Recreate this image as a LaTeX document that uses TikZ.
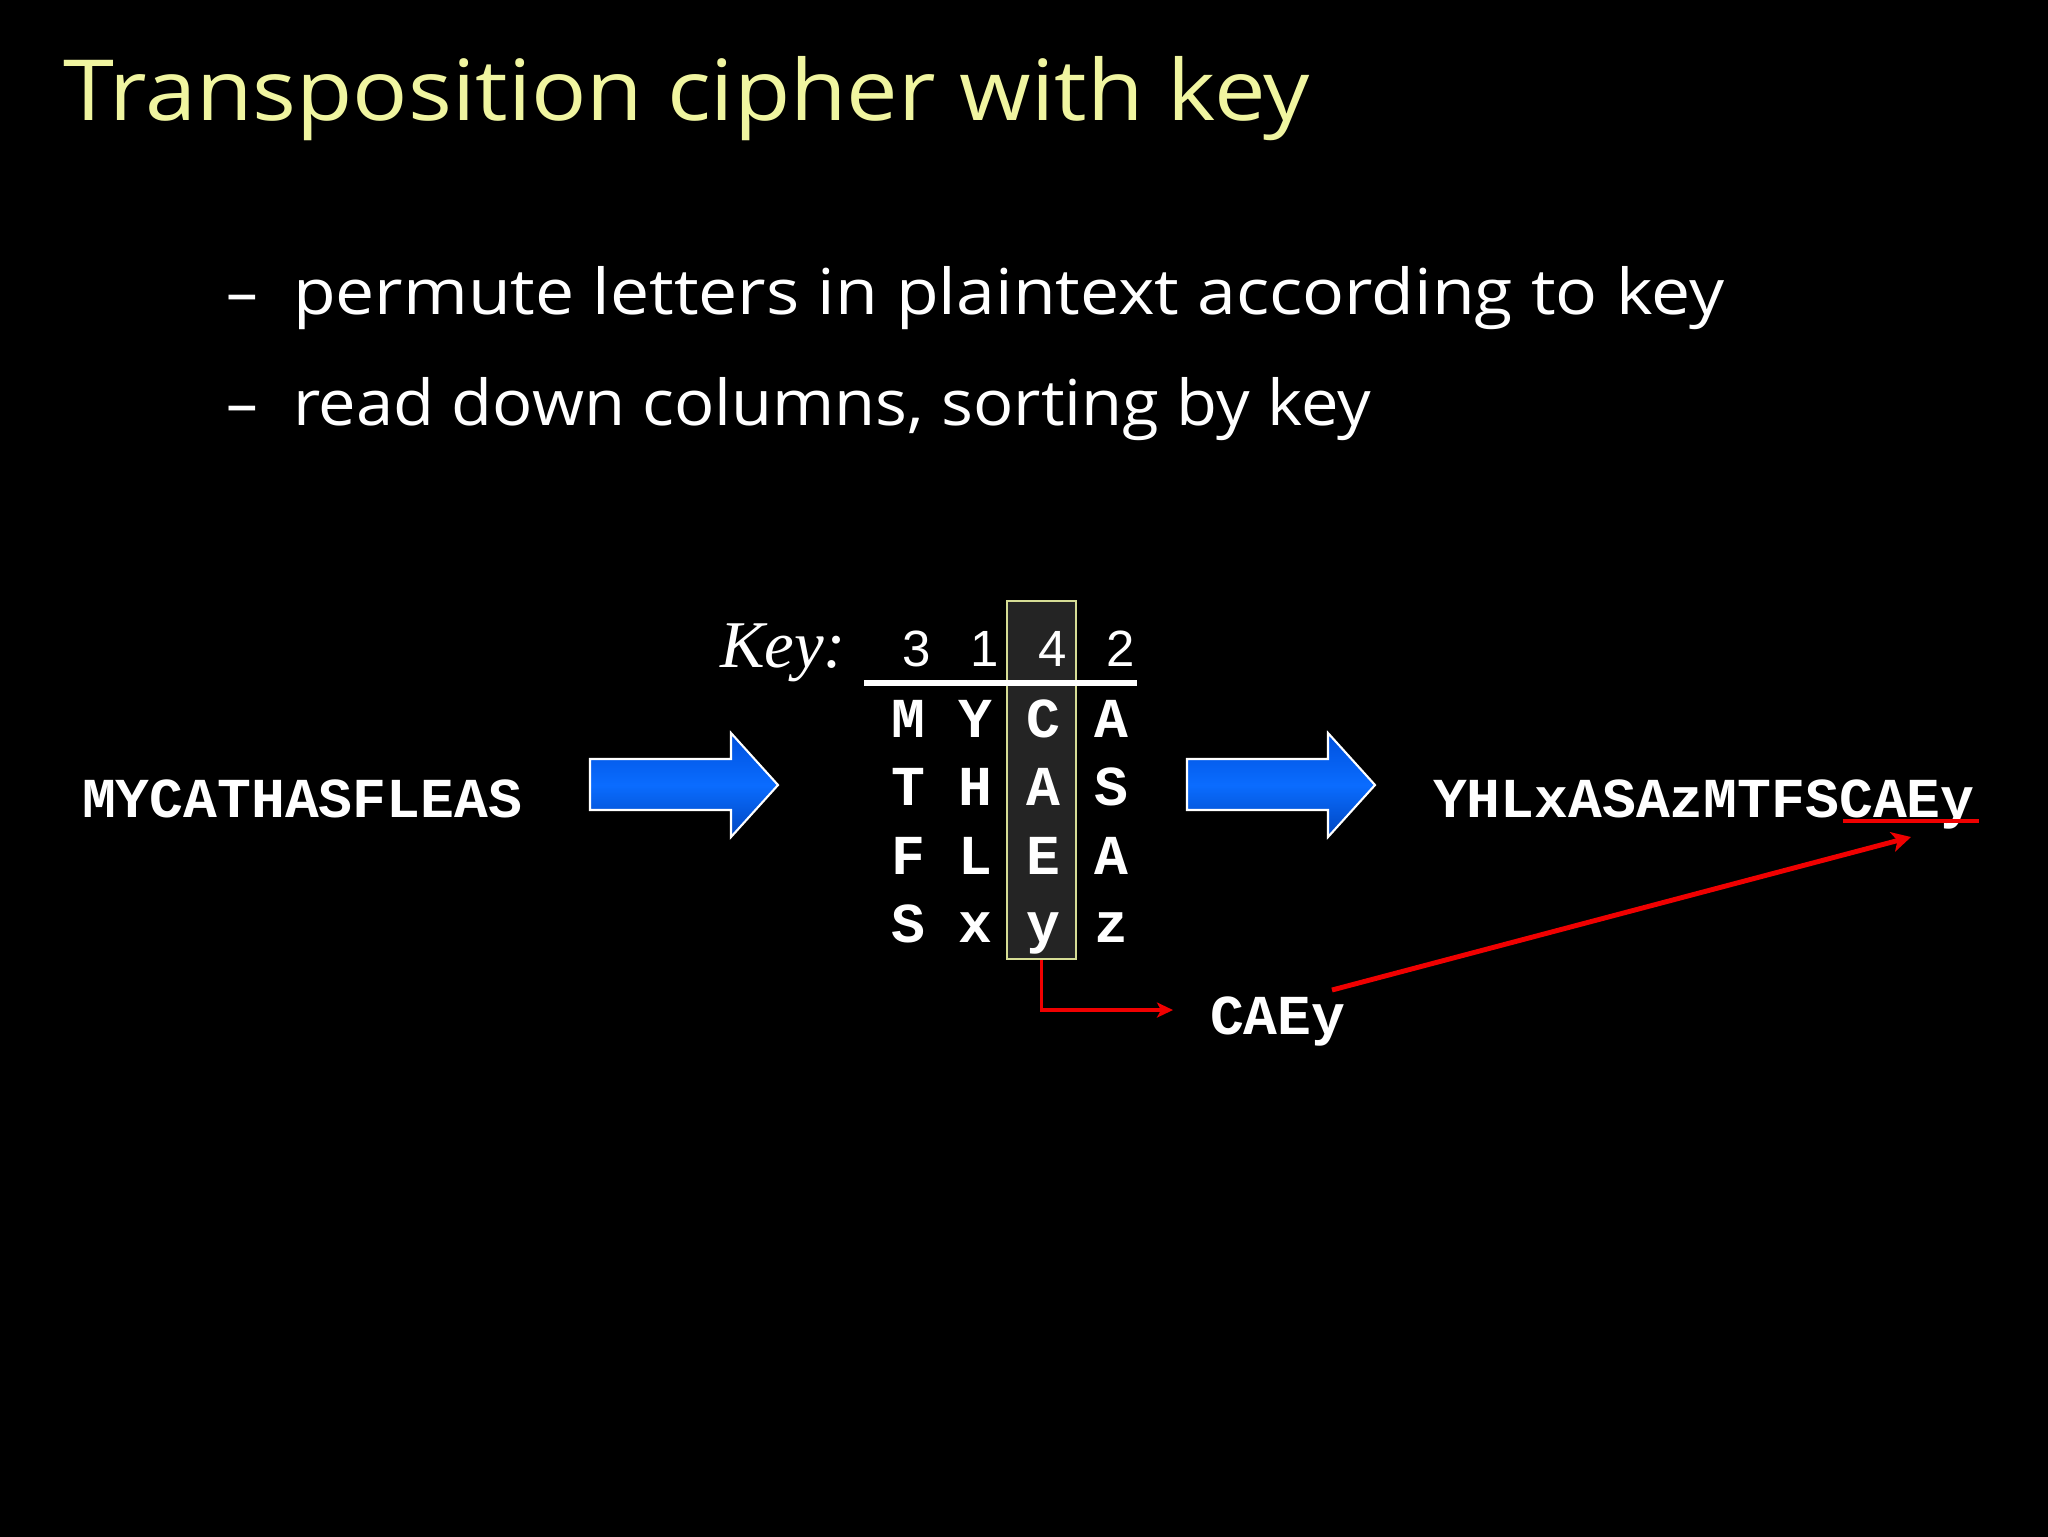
\documentclass[tikz,border=0pt]{standalone}
\usepackage{fontspec}
\usepackage{graphicx}
\setmainfont{Open Sans}
\newfontfamily\courfont{Liberation Mono}
\newfontfamily\arialfont{Liberation Sans}
\newfontfamily\timesfont{Liberation Serif}
\usetikzlibrary{arrows.meta}
\definecolor{titleyellow}{HTML}{F0F5A0}
\definecolor{boxfill}{HTML}{242424}
\definecolor{boxborder}{HTML}{D6DD95}
\definecolor{redline}{HTML}{F00000}
\definecolor{bluetop}{HTML}{0050DD}
\definecolor{bluemid}{HTML}{0A6CFF}
\definecolor{bluebot}{HTML}{0046C0}
\tikzset{
  txt/.style={inner sep=0pt, outer sep=0pt},
  courtext/.style={txt, text=white, font=\courfont\bfseries\fontsize{16.05pt}{18pt}\selectfont},
  digit/.style={txt, text=white, font=\arialfont\fontsize{14.5pt}{16pt}\selectfont, anchor=base},
  bigarrow/.style={draw=white, line width=0.6pt, top color=bluetop, bottom color=bluebot, middle color=bluemid},
  redarrow/.style={draw=redline, -{Stealth[length=1.6mm,width=1.5mm,inset=0.4mm]}},
}
\begin{document}
\begin{tikzpicture}[x=0.1mm,y=-0.1mm]
\useasboundingbox (0,0) rectangle (2048,1536);
\fill[black] (-20,-20) rectangle (2068,1556);

% title
\node[txt, anchor=base west, text=titleyellow] (title) at (63,120)
  {\resizebox{124.7mm}{\height}{\fontsize{24pt}{28pt}\selectfont Transposition cipher with key}};

% bullets
\node[txt, anchor=base west, text=white] (dash1) at (226,314)
  {\fontsize{18pt}{22pt}\selectfont –};
\node[txt, anchor=base west, text=white] (b1) at (293,314)
  {\resizebox{143.1mm}{\height}{\fontsize{18pt}{22pt}\selectfont permute letters in plaintext according to key}};
\node[txt, anchor=base west, text=white] (dash2) at (226,425)
  {\fontsize{18pt}{22pt}\selectfont –};
\node[txt, anchor=base west, text=white] (b2) at (293,425)
  {\resizebox{107.8mm}{\height}{\fontsize{18pt}{22pt}\selectfont read down columns, sorting by key}};

% highlighted column box
\node[draw=boxborder, fill=boxfill, line width=0.6pt, minimum width=6.9mm, minimum height=35.8mm, inner sep=0pt] (colbox) at (1041.5,780) {};

% key label and digits
\node[txt, anchor=base west, text=white, font=\timesfont\itshape\fontsize{19pt}{22pt}\selectfont] (keylabel) at (720,667) {Key:};
\node[digit] (d1) at (917,666) {3};
\node[digit] (d2) at (985,666) {1};
\node[digit] (d3) at (1053,666) {4};
\node[digit] (d4) at (1121,666) {2};
\coordinate (ruleL) at (864,683);
\coordinate (ruleR) at (1137,683);
\draw[white, line width=1.45pt] (ruleL) -- (ruleR);

% grid letters
\foreach \r/\y/\la/\lb/\lc/\ld in {1/737/M/Y/C/A, 2/805.5/T/H/A/S, 3/874/F/L/E/A, 4/942/S/x/y/z}{
  \node[courtext, anchor=base] (g\r-1) at (908,\y) {\la};
  \node[courtext, anchor=base] (g\r-2) at (975.7,\y) {\lb};
  \node[courtext, anchor=base] (g\r-3) at (1043.4,\y) {\lc};
  \node[courtext, anchor=base] (g\r-4) at (1111,\y) {\ld};
}

% plaintext and ciphertext
\node[courtext, anchor=base west] (plain) at (82,817) {MYCATHASFLEAS};
\node[courtext, anchor=base west] (cipher) at (1433,817) {YHLxASAzMTFSCAEy};
\node[courtext, anchor=base west] (caey) at (1210,1034) {CAEy};

% blue arrows
\path[bigarrow] (590,759) -- (731,759) -- (731,733) -- (778,785) -- (731,837) -- (731,810) -- (590,810) -- cycle;
\path[bigarrow] (1187,759) -- (1328,759) -- (1328,733) -- (1375,785) -- (1328,837) -- (1328,810) -- (1187,810) -- cycle;

% red connectors
\coordinate (elbowend) at (1173,1010);
\draw[redarrow, line width=0.9pt] (colbox.south) |- (elbowend);
\coordinate (longstart) at (1332,990);
\coordinate (longend) at (1911,837);
\draw[redarrow, line width=1.4pt, -{Stealth[length=1.9mm,width=2mm,inset=0.5mm]}] (longstart) -- (longend);
\coordinate (ulA) at (1843,821);
\coordinate (ulB) at (1979,821);
\draw[redline, line width=1.1pt] (ulA) -- (ulB);
\end{tikzpicture}
\end{document}
